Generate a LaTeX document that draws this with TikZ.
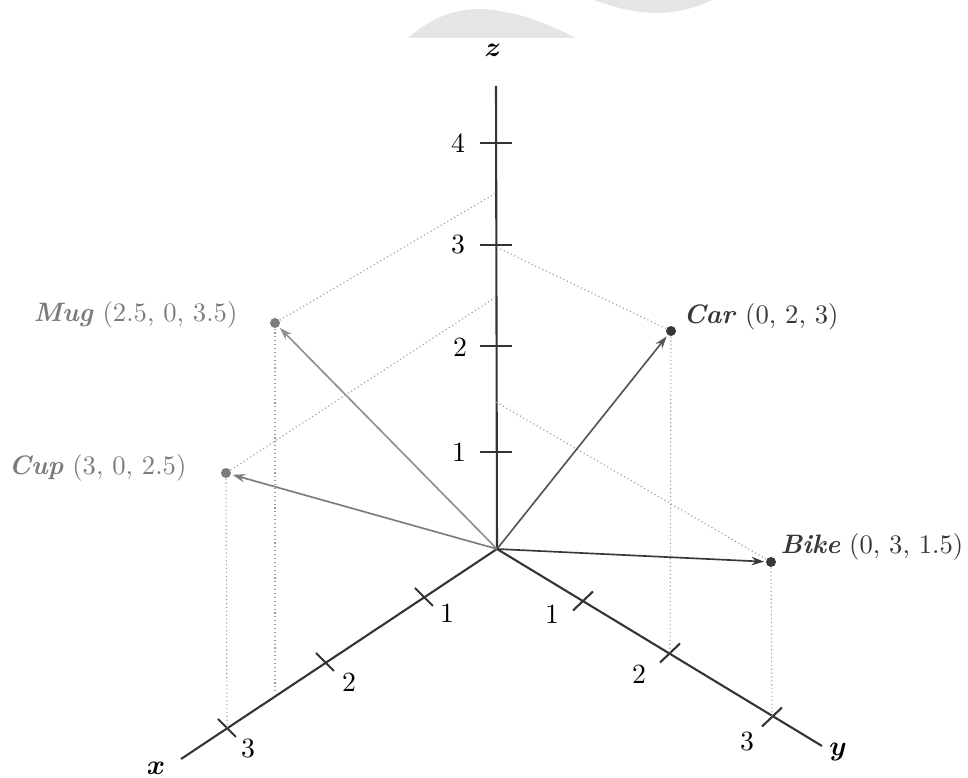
\documentclass[tikz,border=0pt]{standalone}
\usepackage{tikz}
\usepackage{bm}
\usetikzlibrary{calc,arrows.meta}
\definecolor{axisgray}{HTML}{333333}
\definecolor{lightpt}{HTML}{7C7C7C}
\definecolor{darkpt}{HTML}{383838}
\definecolor{projgray}{HTML}{9A9A9A}
\definecolor{blobgray}{HTML}{E4E5E7}
\def\xtick(#1){\draw[axis] ($(#1)+(-9,-9)$) -- ($(#1)+(9,9)$);}
\def\ytick(#1){\draw[axis] ($(#1)+(-10,9.5)$) -- ($(#1)+(10,-9.5)$);}
\def\ztick(#1){\draw[axis] ($(#1)+(-16,0)$) -- ($(#1)+(16,0)$);}

\begin{document}
\begin{tikzpicture}[x=0.36pt, y=-0.36pt,
		axis/.style={line width=0.75pt, color=axisgray},
		dot/.style={circle, inner sep=0pt, minimum size=3.6pt},
		ptlabel/.style={inner sep=0pt, font=\fontsize{9.6}{11}\selectfont},
		vec/.style={-{Stealth[length=4.5pt,width=3pt]}, line width=0.6pt, shorten >=0.5pt},
		proj/.style={densely dotted, line width=0.4pt, color=projgray}]
			%%%%% START %%%%%
			\useasboundingbox (0, 0) rectangle (968, 778);
			
			\fill[blobgray] (408, 38) .. controls (432, 17) and (455, 9) .. (480, 9) .. controls (512, 10) and (545, 22) .. (576, 38) -- cycle;
			\fill[blobgray] (594, 0) .. controls (615, 8) and (638, 13) .. (657, 13) .. controls (678, 13) and (698, 7) .. (712, 0) -- cycle;
			
			% axes
			\coordinate (O) at (497, 549);
			\coordinate (xend) at (181, 759);
			\coordinate (yend) at (822, 746);
			\coordinate (zend) at (496, 86);
			\draw[axis] (O) -- (xend);
			\draw[axis] (O) -- (yend);
			\draw[axis] (O) -- (zend);
			\node (xlabel) at (156, 768) {$\bm{x}$};
			\node (ylabel) at (838, 752) {$\bm{y}$};
			\node (zlabel) at (493, 50) {$\bm{z}$};
			
			% ticks
			\coordinate (x1) at (424, 597);
			\coordinate (x2) at (325, 662);
			\coordinate (x3) at (227, 728);
			\coordinate (y1) at (583, 601);
			\coordinate (y2) at (670, 653);
			\coordinate (y3) at (772, 717);
			\coordinate (z1) at (496, 452);
			\coordinate (z2) at (496, 346);
			\coordinate (z3) at (496, 245);
			\coordinate (z4) at (496, 143);
			\xtick(x1) \xtick(x2) \xtick(x3)
			\ytick(y1) \ytick(y2) \ytick(y3)
			\ztick(z1) \ztick(z2) \ztick(z3) \ztick(z4)
			\node (xl1) at (447, 613) {1};
			\node (xl2) at (349, 682) {2};
			\node (xl3) at (248, 749) {3};
			\node (yl1) at (552, 614) {1};
			\node (yl2) at (639, 674) {2};
			\node (yl3) at (747, 742) {3};
			\node (zl1) at (459, 452) {1};
			\node (zl2) at (460, 347) {2};
			\node (zl3) at (458, 245) {3};
			\node (zl4) at (458, 143) {4};
			
			% points
			\node[dot, fill=lightpt] (mug) at (275, 323) {};
			\node[dot, fill=lightpt] (cup) at (226, 473) {};
			\node[dot, fill=darkpt] (car) at (671, 331) {};
			\node[dot, fill=darkpt] (bike) at (771, 562) {};
			\node[ptlabel, anchor=east, color=lightpt] (muglbl) at (238, 315) {\textbf{\textit{Mug}} (2.5, 0, 3.5)};
			\node[ptlabel, anchor=east, color=lightpt] (cuplbl) at (187, 468) {\textbf{\textit{Cup}} (3, 0, 2.5)};
			\node[ptlabel, anchor=west, color=darkpt] (carlbl) at (683, 317) {\textbf{\textit{Car}} (0, 2, 3)};
			\node[ptlabel, anchor=west, color=darkpt] (bikelbl) at (780, 547) {\textbf{\textit{Bike}} (0, 3, 1.5)};
			
			% projections
			\coordinate (zmug) at (496, 193);
			\coordinate (zcup) at (496, 297);
			\coordinate (zcar) at (496, 247);
			\coordinate (zbike) at (496, 402);
			\coordinate (xmug) at (275, 694);
			\draw[proj] (mug) -- (zmug);
			\draw[proj] (cup) -- (zcup);
			\draw[proj] (car) -- (zcar);
			\draw[proj] (bike) -- (zbike);
			\draw[proj] (mug) -- (xmug);
			\draw[proj] (cup) -- (x3);
			\draw[proj] (car) -- (y2);
			\draw[proj] (bike) -- (y3);
			
			% vectors
			\draw[vec, color=lightpt!85] (O) -- (mug);
			\draw[vec, color=lightpt] (O) -- (cup);
			\draw[vec, color=darkpt!85] (O) -- (car);
			\draw[vec, color=darkpt] (O) -- (bike);
			%%%%% END %%%%%
\end{tikzpicture}
\end{document}
